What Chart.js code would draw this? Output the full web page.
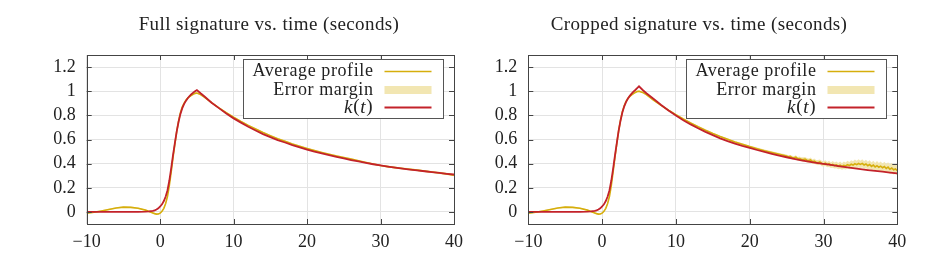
<!DOCTYPE html>
<html><head><meta charset="utf-8">
<script src="https://cdn.jsdelivr.net/npm/chart.js@4/dist/chart.umd.min.js"></script>
<style>
html,body{margin:0;padding:0;background:#fff;width:930px;height:261px;overflow:hidden}
canvas{position:absolute;top:0}
</style></head><body>
<canvas id="c1" width="470" height="261" style="left:0"></canvas>
<canvas id="c2" width="460" height="261" style="left:470px"></canvas>
<script>
// ---------- DATA ----------
const titles = ["Full signature vs. time (seconds)", "Cropped signature vs. time (seconds)"];
const legendLabels = ["Average profile", "Error margin", "k(t)"];
const xTicks = [-10, 0, 10, 20, 30, 40];
const yTicks = [0, 0.2, 0.4, 0.6, 0.8, 1, 1.2];

// time grid shared by k(t) and the full-signature average
const kT = [-10,-9,-8,-7,-6,-5,-4,-3,-2,-1.5,
  -1,-0.75,-0.5,-0.25,0,0.25,0.5,0.75,1,1.25,1.5,1.75,2,2.25,2.5,2.75,3,3.25,3.5,3.75,4,4.25,4.5,4.75,5,
  5.5,6,
  7,8,9,10,11,12,13,14,15,16,17,18,19,20,21,22,23,24,25,26,27,28,29,30,31,32,33,34,35,36,37,38,39,40];

const kLeft = [0,0,0,0,0,0,0,0.001,0.002,0.004,
  0.009,0.013,0.02,0.03,0.045,0.063,0.09,0.128,0.18,0.26,0.36,0.47,0.57,0.665,0.745,0.81,0.858,0.893,0.92,0.942,0.96,0.975,0.988,1.0,1.01,
  0.983,0.958,
  0.905,0.86,0.815,0.775,0.74,0.705,0.675,0.645,0.62,0.595,0.575,0.553,0.535,0.517,0.5,0.485,0.47,0.456,0.443,0.43,0.418,0.406,0.395,0.385,0.376,0.367,0.359,0.351,0.344,0.337,0.33,0.323,0.316,0.31];

const avgLeft = [-0.01,-0.003,0.008,0.02,0.032,0.04,0.038,0.03,0.015,0.003,
  -0.008,-0.014,-0.018,-0.017,-0.01,0.005,0.03,0.07,0.13,0.22,0.33,0.45,0.56,0.665,0.75,0.82,0.868,0.9,0.925,0.943,0.956,0.966,0.975,0.982,0.985,
  0.972,0.952,
  0.905,0.862,0.822,0.785,0.75,0.717,0.687,0.658,0.632,0.607,0.585,0.563,0.544,0.526,0.509,0.493,0.478,0.464,0.451,0.438,0.424,0.41,0.397,0.384,0.375,0.367,0.36,0.353,0.346,0.338,0.331,0.323,0.315,0.305];

const errLeft = [0.006,0.006,0.005,0.006,0.006,0.005,0.006,0.006,0.005,0.006,
  0.006,0.006,0.006,0.006,0.006,0.006,0.006,0.007,0.007,0.007,0.007,0.007,0.007,0.007,0.007,0.007,0.007,0.007,0.007,0.007,0.007,0.007,0.007,0.007,0.007,
  0.007,0.007,
  0.006,0.006,0.006,0.006,0.006,0.006,0.006,0.006,0.006,0.006,0.006,0.006,0.006,0.006,0.006,0.006,0.006,0.007,0.007,0.007,0.007,0.007,0.007,0.007,0.007,0.008,0.008,0.008,0.008,0.008,0.008,0.009,0.009,0.009];

const kRight = [0,0,0,0,0,0,0,0.001,0.002,0.004,
  0.009,0.013,0.02,0.03,0.045,0.063,0.09,0.128,0.18,0.26,0.36,0.47,0.575,0.675,0.758,0.825,0.875,0.912,0.94,0.962,0.98,0.996,1.01,1.025,1.04,
  1.01,0.983,
  0.935,0.886,0.84,0.798,0.76,0.725,0.693,0.663,0.636,0.61,0.587,0.566,0.547,0.53,0.513,0.497,0.481,0.466,0.453,0.44,0.428,0.417,0.407,0.398,0.389,0.38,0.371,0.363,0.355,0.347,0.34,0.333,0.326,0.319];

// cropped-signature average: same early grid, finer tail
const avgTRight = [-10,-9,-8,-7,-6,-5,-4,-3,-2,-1.5,
  -1,-0.75,-0.5,-0.25,0,0.25,0.5,0.75,1,1.25,1.5,1.75,2,2.25,2.5,2.75,3,3.25,3.5,3.75,4,4.25,4.5,4.75,5,
  5.5,6,
  7,8,9,10,11,12,13,14,15,16,17,18,19,20,21,22,23,24,
  25,25.25,25.5,25.75,26,26.25,26.5,26.75,27,27.25,27.5,27.75,28,28.25,28.5,28.75,29,29.25,29.5,29.75,
  30,30.25,30.5,30.75,31,31.25,31.5,31.75,32,32.25,32.5,32.75,33,33.25,33.5,33.75,34,34.25,34.5,34.75,
  35,35.25,35.5,35.75,36,36.25,36.5,36.75,37,37.25,37.5,37.75,38,38.25,38.5,38.75,39,39.25,39.5,39.75,40];

const avgRight = [-0.01,-0.003,0.008,0.02,0.032,0.04,0.038,0.03,0.015,0.003,
  -0.008,-0.014,-0.018,-0.017,-0.01,0.005,0.03,0.07,0.13,0.22,0.335,0.455,0.57,0.675,0.76,0.83,0.88,0.915,0.94,0.957,0.97,0.98,0.99,0.997,1.0,
  0.99,0.972,
  0.925,0.882,0.842,0.805,0.77,0.737,0.706,0.677,0.65,0.625,0.602,0.58,0.56,0.541,0.524,0.507,0.492,0.477,
  0.463,0.456,0.461,0.45,0.449,0.453,0.441,0.443,0.437,0.434,0.438,0.428,0.425,0.43,0.416,0.421,0.412,0.408,0.414,0.402,
  0.398,0.404,0.392,0.399,0.387,0.394,0.384,0.39,0.379,0.388,0.377,0.386,0.381,0.392,0.384,0.395,0.388,0.399,0.392,0.401,
  0.394,0.402,0.389,0.397,0.383,0.393,0.377,0.388,0.372,0.383,0.37,0.379,0.366,0.376,0.36,0.371,0.354,0.364,0.349,0.356,0.343];

const errRight = [0.006,0.006,0.005,0.006,0.006,0.005,0.006,0.006,0.005,0.006,
  0.006,0.006,0.006,0.006,0.006,0.006,0.006,0.007,0.007,0.007,0.007,0.007,0.007,0.007,0.007,0.007,0.007,0.007,0.007,0.007,0.007,0.007,0.007,0.007,0.007,
  0.007,0.007,
  0.006,0.006,0.006,0.006,0.006,0.006,0.007,0.007,0.007,0.007,0.008,0.008,0.008,0.009,0.009,0.01,0.01,0.011,
  0.012,0.014,0.011,0.015,0.013,0.016,0.014,0.017,0.015,0.018,0.016,0.019,0.017,0.02,0.018,0.021,0.019,0.022,0.02,0.023,
  0.021,0.024,0.022,0.026,0.023,0.027,0.025,0.028,0.026,0.03,0.027,0.031,0.029,0.033,0.03,0.034,0.031,0.035,0.032,0.036,
  0.03,0.034,0.031,0.035,0.032,0.036,0.033,0.037,0.034,0.038,0.035,0.039,0.036,0.04,0.037,0.04,0.038,0.041,0.039,0.042,0.04];

// ---------- STYLE ----------
const C_AVG = '#d6ae0c', C_BAND = '#f2e6b2', C_K = '#c3222a';
const FONT = 'Liberation Serif';

function pts(xs, ys){ return xs.map((x,i)=>({x, y: ys[i]})); }
function band(xs, ys, es, sign){ return xs.map((x,i)=>({x, y: ys[i] + sign*es[i]})); }

function framePlugin(cfg){
  return {
    id: 'frame',
    afterDraw(chart){
      const ctx = chart.ctx, a = chart.chartArea;
      const xs = chart.scales.x, ys = chart.scales.y;
      ctx.save();
      ctx.strokeStyle = '#444'; ctx.lineWidth = 1;
      ctx.strokeRect(Math.round(a.left)+0.5, Math.round(a.top)+0.5, Math.round(a.right-a.left), Math.round(a.bottom-a.top));
      ctx.beginPath();
      xTicks.forEach(v=>{
        const p = Math.round(xs.getPixelForValue(v))+0.5;
        ctx.moveTo(p, a.bottom); ctx.lineTo(p, a.bottom-5);
        ctx.moveTo(p, a.top); ctx.lineTo(p, a.top+5);
      });
      yTicks.forEach(v=>{
        const p = Math.round(ys.getPixelForValue(v))+0.5;
        ctx.moveTo(a.left, p); ctx.lineTo(a.left+5, p);
        ctx.moveTo(a.right, p); ctx.lineTo(a.right-5, p);
      });
      ctx.stroke();
      // title
      ctx.fillStyle = '#222';
      ctx.font = '19px "' + FONT + '"';
      ctx.letterSpacing = '0.4px';
      ctx.textAlign = 'center'; ctx.textBaseline = 'middle';
      ctx.fillText(cfg.title, cfg.titleX, 25);
      // legend
      const bw = 200, bh = 59;
      const bx = Math.round(a.right - 11 - bw) + 0.5, by = Math.round(a.top + 4) + 0.5;
      ctx.fillStyle = '#fff'; ctx.fillRect(bx, by, bw, bh);
      ctx.strokeStyle = '#555'; ctx.lineWidth = 1; ctx.strokeRect(bx, by, bw, bh);
      const rows = [by+12, by+30.5, by+48];
      const tx = bx + 130, sx0 = bx + 141, sx1 = bx + 188;
      ctx.letterSpacing = '0.6px';
      ctx.fillStyle = '#222'; ctx.textAlign = 'right'; ctx.textBaseline = 'middle';
      ctx.font = '18px "' + FONT + '"';
      ctx.fillText(legendLabels[0], tx, rows[0]);
      ctx.fillText(legendLabels[1], tx, rows[1]);
      ctx.letterSpacing = '0px';
      const parts = [['k',true],['(',false],['t',true],[')',false]];
      let w = 0;
      parts.forEach(([s,it])=>{ ctx.font = (it?'italic ':'') + '19px "' + FONT + '"'; w += ctx.measureText(s).width + 0.8; });
      let cx = tx - w; ctx.textAlign = 'left';
      parts.forEach(([s,it])=>{ ctx.font = (it?'italic ':'') + '19px "' + FONT + '"'; ctx.fillText(s, cx, rows[2]); cx += ctx.measureText(s).width + 0.8; });
      ctx.strokeStyle = C_AVG; ctx.lineWidth = 1.6;
      ctx.beginPath(); ctx.moveTo(sx0, rows[0]); ctx.lineTo(sx1, rows[0]); ctx.stroke();
      ctx.fillStyle = C_BAND; ctx.fillRect(sx0, rows[1]-4, sx1-sx0, 8);
      ctx.strokeStyle = C_K; ctx.lineWidth = 2;
      ctx.beginPath(); ctx.moveTo(sx0, rows[2]); ctx.lineTo(sx1, rows[2]); ctx.stroke();
      ctx.restore();
    }
  };
}

function makeChart(id, cfg){
  const fmt = v => { const s = String(Math.round(v*10)/10); return s.replace('-', '\u2212'); };
  new Chart(document.getElementById(id), {
    type: 'line',
    data: { datasets: [
      { data: pts(kT, cfg.k), borderColor: C_K, borderWidth: 1.8, pointRadius: 0, tension: 0, fill: false, order: 0 },
      { data: pts(cfg.t, cfg.avg), borderColor: C_AVG, borderWidth: 1.6, pointRadius: 0, tension: 0, fill: false, order: 1 },
      { data: band(cfg.t, cfg.avg, cfg.err, 1), borderWidth: 0, pointRadius: 0, tension: 0, backgroundColor: C_BAND, fill: '+1', order: 2 },
      { data: band(cfg.t, cfg.avg, cfg.err, -1), borderWidth: 0, pointRadius: 0, tension: 0, backgroundColor: C_BAND, fill: false, order: 3 }
    ]},
    options: {
      responsive: false, animation: false, events: [],
      layout: { padding: { left: cfg.padL, right: cfg.padR, top: 55, bottom: 0 } },
      plugins: { legend: { display: false }, title: { display: false }, tooltip: { enabled: false } },
      scales: {
        x: { type: 'linear', min: -10, max: 40,
          afterBuildTicks: s => { s.ticks = xTicks.map(v=>({value:v})); },
          afterFit: s => { s.height = 37; },
          grid: { color: '#e3e3e3', lineWidth: 1, drawTicks: false },
          border: { display: false },
          ticks: { autoSkip: false, maxRotation: 0, padding: 7, color: '#222', font: { family: FONT, size: 18 }, callback: fmt } },
        y: { type: 'linear', min: -0.1, max: 1.3,
          afterBuildTicks: s => { s.ticks = yTicks.map(v=>({value:v})); },
          afterFit: s => { s.width = cfg.yW; },
          grid: { color: '#e3e3e3', lineWidth: 1, drawTicks: false },
          border: { display: false },
          ticks: { padding: 11, color: '#222', font: { family: FONT, size: 18 }, callback: fmt } }
      }
    },
    plugins: [framePlugin(cfg)]
  });
}

makeChart('c1', { title: titles[0], titleX: 269, k: kLeft, t: kT, avg: avgLeft, err: errLeft, padL: 10, yW: 76.7, padR: 15 });
makeChart('c2', { title: titles[1], titleX: 229, k: kRight, t: avgTRight, avg: avgRight, err: errRight, padL: 5, yW: 53.3, padR: 32.7 });
</script>
</body></html>
